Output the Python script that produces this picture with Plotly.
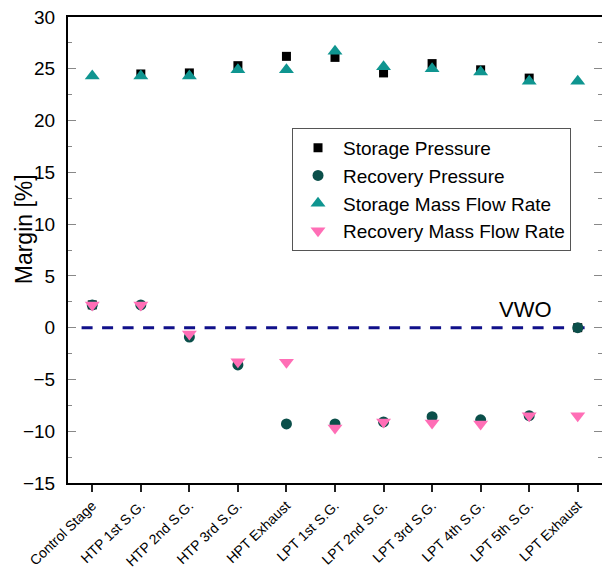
import plotly.graph_objects as go

categories = ["Control Stage", "HTP 1st S.G.", "HTP 2nd S.G.", "HTP 3rd S.G.", "HPT Exhaust",
              "LPT 1st S.G.", "LPT 2nd S.G.", "LPT 3rd S.G.", "LPT 4th S.G.", "LPT 5th S.G.", "LPT Exhaust"]
storage_pressure = [2.2, 24.5, 24.6, 25.3, 26.2, 26.1, 24.6, 25.5, 24.9, 24.1, 0.0]
recovery_pressure = [2.2, 2.2, -0.9, -3.6, -9.3, -9.3, -9.1, -8.6, -8.9, -8.5, 0.0]
storage_mass_flow = [24.3, 24.3, 24.3, 24.9, 24.9, 26.7, 25.2, 25.0, 24.7, 23.8, 23.8]
recovery_mass_flow = [2.2, 2.2, -0.6, -3.3, -3.35, -9.7, -9.1, -9.2, -9.3, -8.5, -8.5]
vwo_level = 0
y_ticks = [-15, -10, -5, 0, 5, 10, 15, 20, 25, 30]

FONT = "Liberation Sans, Arial, sans-serif"

fig = go.Figure()
fig.add_trace(go.Scatter(x=categories, y=storage_pressure, mode="markers", name="Storage Pressure",
                         marker=dict(symbol="square", size=9, color="#000000")))
fig.add_trace(go.Scatter(x=categories, y=recovery_pressure, mode="markers", name="Recovery Pressure",
                         marker=dict(symbol="circle", size=11, color="#0b4f4a")))
fig.add_trace(go.Scatter(x=categories, y=storage_mass_flow, mode="markers", name="Storage Mass Flow Rate",
                         marker=dict(symbol="triangle-up", size=13, color="#0f9590")))
fig.add_trace(go.Scatter(x=categories, y=recovery_mass_flow, mode="markers", name="Recovery Mass Flow Rate",
                         marker=dict(symbol="triangle-down", size=13, color="#ff6eb6")))

fig.add_shape(type="line", xref="x", yref="y", x0=-0.22, x1=10.18, y0=vwo_level, y1=vwo_level,
              line=dict(color="#10108a", width=3, dash="11px,9.5px"), layer="below")
fig.add_annotation(x=8.92, y=1.75, xref="x", yref="y", text="VWO", showarrow=False,
                   font=dict(family=FONT, size=22, color="#000000"))
fig.add_annotation(x=-0.082, y=0.545, xref="paper", yref="paper", xanchor="center", yanchor="middle",
                   text="Margin [%]", textangle=-90,
                   showarrow=False, font=dict(family=FONT, size=23, color="#000000"))

fig.update_layout(
    width=602, height=568, autosize=False,
    margin=dict(l=68, r=0, t=17, b=85, autoexpand=False),
    paper_bgcolor="white", plot_bgcolor="white",
    font=dict(family=FONT, color="#000000"),
    showlegend=True,
    legend=dict(x=0.4195, y=0.762, xanchor="left", yanchor="top",
                bgcolor="white", bordercolor="#555555", borderwidth=1,
                font=dict(family=FONT, size=19), itemwidth=40, tracegroupgap=0),
)
fig.update_xaxes(type="category", range=[-0.5, 10.5], showgrid=False, zeroline=False,
                 automargin=False,
                 showline=True, linecolor="#000000", linewidth=2, mirror=True,
                 ticks="outside", ticklen=7, tickwidth=1.5, tickcolor="#222222",
                 tickangle=-44, tickfont=dict(family=FONT, size=14, color="#000000"))
fig.update_yaxes(range=[-15, 30], tickvals=y_ticks, showgrid=False, zeroline=False,
                 automargin=False,
                 showline=True, linecolor="#000000", linewidth=2, mirror="ticks",
                 ticks="inside", ticklen=8, tickwidth=1, tickcolor="#888888",
                 minor=dict(dtick=2.5, ticks="inside", ticklen=4, tickcolor="#888888", tickwidth=1),
                 ticklabelstandoff=7,
                 tickfont=dict(family=FONT, size=19, color="#000000"))

fig.write_html("out.html", config={"displayModeBar": False},
               post_script="document.body.style.margin='0';")
